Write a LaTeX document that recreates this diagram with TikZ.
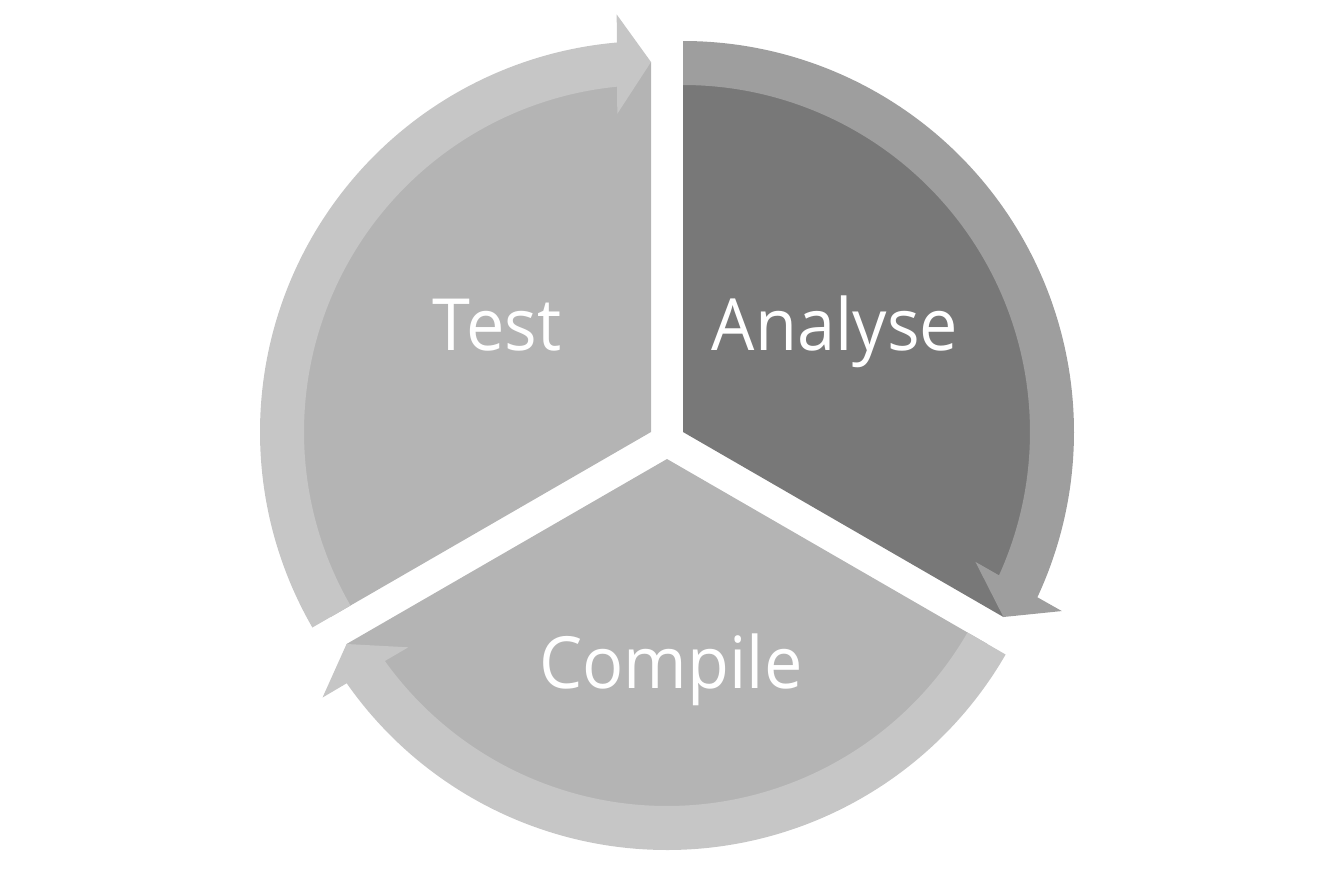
\documentclass[tikz,border=0pt]{standalone}
\usepackage{fontspec}
\setmainfont[FakeStretch=0.95]{Open Sans}
\definecolor{pieA}{RGB}{120,120,120}
\definecolor{arrA}{RGB}{158,158,158}
\definecolor{pieB}{RGB}{180,180,180}
\definecolor{arrB}{RGB}{198,198,198}
\newcommand\cyclearrow[4]{%
  \begin{scope}[shift={(#1pt,#2pt)}]
    \pgfmathsetmacro\tipang{#3-120}
    \pgfmathsetmacro\angon{\tipang+5.0}
    \pgfmathsetmacro\angob{\tipang+4.7}
    \pgfmathsetmacro\angib{\tipang+6.05}
    \pgfmathsetmacro\angin{\tipang+5.6}
    \fill[#4] (#3:391pt) arc[start angle=#3, end angle=\angon, radius=391pt]
      -- (\angob:419pt) -- (\tipang:370pt) -- (\angib:320pt) -- (\angin:347pt)
      arc[start angle=\angin, end angle=#3, radius=347pt] -- cycle;
  \end{scope}}
\newcommand\piepart[4]{%
  \fill[#4] (#1pt,#2pt) -- ++(#3:370pt) arc[start angle=#3, end angle=#3-120, radius=370pt] -- cycle;}
\tikzset{lbl/.style={text=white, anchor=base, inner sep=0pt, font=\fontsize{72}{86}\selectfont}}
\begin{document}
\begin{tikzpicture}[x=1pt,y=1pt]
  \useasboundingbox (0,0) rectangle (1334,-889);
  \piepart{683}{-432}{90}{pieA}
  \piepart{667}{-459}{-30}{pieB}
  \piepart{651}{-432}{210}{pieB}
  \cyclearrow{683}{-432}{90}{arrA}
  \cyclearrow{667}{-459}{-30}{arrB}
  \cyclearrow{651}{-432}{210}{arrB}
  \node[lbl] (test) at (497,-350) {Test};
  \node[lbl] (analyse) at (835,-350) {Analyse};
  \node[lbl] (compile) at (671,-688) {Compile};
\end{tikzpicture}
\end{document}
